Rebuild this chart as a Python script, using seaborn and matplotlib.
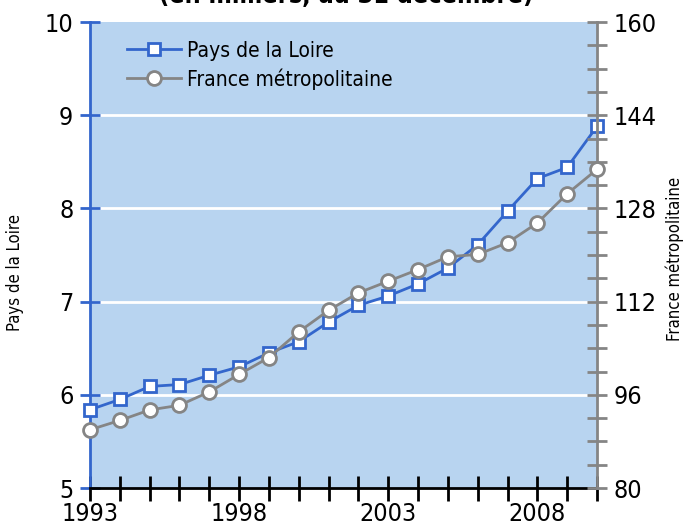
import numpy as np
import pandas as pd
import matplotlib
matplotlib.use("Agg")
import matplotlib.pyplot as plt
import seaborn as sns
from matplotlib.lines import Line2D

# %%
years = list(range(1993, 2011))
pays_loire = [5.84, 5.95, 6.09, 6.11, 6.21, 6.30, 6.45, 6.57, 6.78, 6.96,
              7.06, 7.19, 7.36, 7.61, 7.97, 8.32, 8.44, 8.88]
france = [90.0, 91.6, 93.4, 94.2, 96.5, 99.5, 102.4, 106.8, 110.5, 113.5,
          115.5, 117.5, 119.7, 120.1, 122.1, 125.5, 130.5, 134.7]
left_ticks = [5, 6, 7, 8, 9, 10]
right_ticks = list(range(80, 161, 4))
year_labels = [1993, 1998, 2003, 2008]

df = pd.DataFrame({"annee": years, "pdl": pays_loire, "france": france})

# %%
plt.rcParams["font.family"] = ["Liberation Sans Narrow", "DejaVu Sans"]
plt.rcParams["font.stretch"] = "condensed"

blue = "#3366CC"
grey = "#858585"
bg = "#B8D4F0"

fig = plt.figure(figsize=(6.85, 5.29), dpi=100)
ax = fig.add_axes([0.1314, 0.0775, 0.7401, 0.8809])
ax.set_facecolor(bg)
ax2 = ax.twinx()

# grid
for v in left_ticks[1:-1]:
    ax.axhline(v, color="white", lw=2, zorder=1)

sns.lineplot(x="annee", y="pdl", data=df, ax=ax, color=blue, lw=2,
             marker="s", markersize=9, markerfacecolor="white",
             markeredgecolor=blue, markeredgewidth=2, clip_on=False, zorder=5)
sns.lineplot(x="annee", y="france", data=df, ax=ax2, color=grey, lw=2,
             marker="o", markersize=10, markerfacecolor="white",
             markeredgecolor=grey, markeredgewidth=2, clip_on=False, zorder=4)

ax.set_xlim(1993, 2010)
ax.set_ylim(5, 10)
ax2.set_ylim(80, 160)

# spines
for a in (ax, ax2):
    a.spines["top"].set_visible(False)
ax.spines["right"].set_visible(False)
ax.spines["left"].set_color(blue)
ax.spines["left"].set_linewidth(2)
ax.spines["bottom"].set_color("black")
ax.spines["bottom"].set_linewidth(2)
ax2.spines["left"].set_visible(False)
ax2.spines["bottom"].set_visible(False)
ax2.spines["right"].set_color(grey)
ax2.spines["right"].set_linewidth(2)

ax.set_yticks(left_ticks)
ax.set_yticklabels([str(t) for t in left_ticks])
ax.tick_params(axis="y", direction="inout", length=14, width=2, color=blue,
               labelsize=18, pad=5)
ax.set_xticks(years)
ax.set_xticklabels([str(y) if y in year_labels else "" for y in years])
ax.tick_params(axis="x", direction="inout", length=18, width=2, color="black",
               labelsize=18, pad=1)

ax2.set_yticks(right_ticks)
ax2.set_yticklabels([str(t) if t % 16 == 0 else "" for t in right_ticks])
ax2.tick_params(axis="y", direction="inout", length=14, width=2, color=grey,
                labelsize=18, pad=5)

ax.set_xlabel("")
ax.set_ylabel("")
ax2.set_ylabel("")
fig.text(0.022, 0.485, "Pays de la Loire", rotation=90, fontsize=12,
         ha="center", va="center")
fig.text(0.985, 0.51, "France métropolitaine", rotation=90, fontsize=12,
         ha="center", va="center")

handles = [
    Line2D([], [], color=blue, lw=2, marker="s", markersize=9,
           markerfacecolor="white", markeredgecolor=blue, markeredgewidth=2),
    Line2D([], [], color=grey, lw=2, marker="o", markersize=10,
           markerfacecolor="white", markeredgecolor=grey, markeredgewidth=2),
]
if ax.get_legend():
    ax.get_legend().remove()
if ax2.get_legend():
    ax2.get_legend().remove()
ax2.legend(handles, ["Pays de la Loire", "France métropolitaine"],
           loc="upper left", bbox_to_anchor=(0.035, 1.0), frameon=False,
           fontsize=15, handlelength=2.6, handletextpad=0.3,
           labelspacing=0.35)

fig.text(0.505, 1.008, "(en milliers, au 31 décembre)", ha="center",
         va="center", fontsize=18, fontweight="bold")

fig.savefig("out.png", dpi=100)
